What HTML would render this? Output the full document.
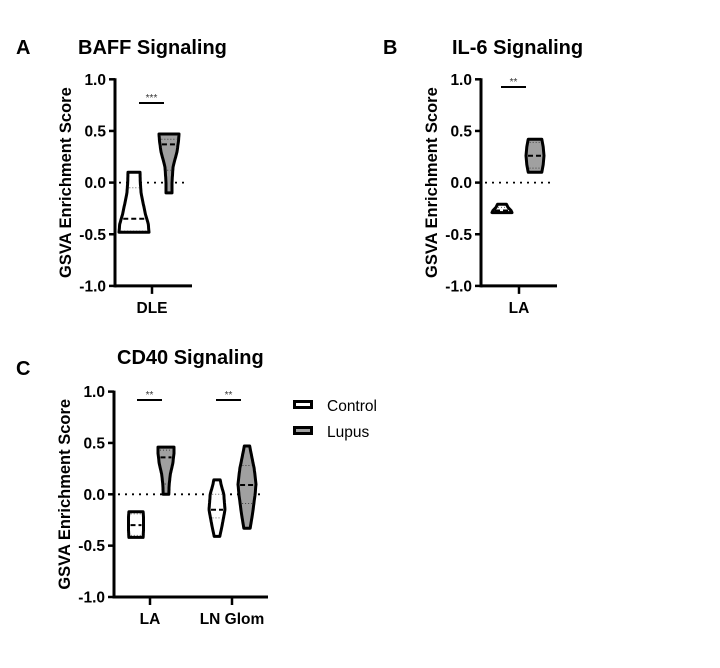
<!DOCTYPE html>
<html><head><meta charset="utf-8"><style>
body{margin:0;background:#fff}
svg{display:block;font-family:"Liberation Sans",sans-serif}
</style></head><body>
<svg width="720" height="668" viewBox="0 0 720 668">
<g id="root"></g>
</svg>
<script>
// Panel A data
const panelATicks = [1.0, 0.5, 0.0, -0.5, -1.0];
const panelATickLabels = ["1.0", "0.5", "0.0", "-0.5", "-1.0"];
const panelACategories = ["DLE"];
const aControlValues = [-0.48, -0.4, -0.3, -0.1, 0.0, 0.1];
const aControlDensity = [1.0, 0.95, 0.75, 0.47, 0.42, 0.4];
const aLupusValues = [-0.1, 0.0, 0.15, 0.3, 0.4, 0.47];
const aLupusDensity = [0.3, 0.3, 0.4, 0.8, 0.95, 1.0];
const aControlStats = [-0.35, -0.47, -0.05]; // median, q1, q3
const aLupusStats = [0.37, 0.12, 0.42];
const aSig = ["***"];
// Panel B data
const panelBCategories = ["LA"];
const bControlValues = [-0.29, -0.27, -0.24, -0.21];
const bControlDensity = [1.0, 0.9, 0.6, 0.45];
const bLupusValues = [0.1, 0.18, 0.26, 0.34, 0.42];
const bLupusDensity = [0.75, 0.92, 1.0, 0.92, 0.75];
const bControlStats = [-0.27, -0.28, -0.24];
const bLupusStats = [0.26, 0.14, 0.39];
const bSig = ["**"];
// Panel C data
const panelCCategories = ["LA", "LN Glom"];
const cLAControlValues = [-0.42, -0.35, -0.3, -0.22, -0.17];
const cLAControlDensity = [0.95, 1.0, 1.0, 1.0, 0.95];
const cLALupusValues = [0.0, 0.1, 0.2, 0.3, 0.4, 0.46];
const cLALupusDensity = [0.35, 0.4, 0.55, 0.85, 1.0, 1.0];
const cLNControlValues = [-0.41, -0.3, -0.15, 0.0, 0.1, 0.14];
const cLNControlDensity = [0.35, 0.65, 1.0, 0.85, 0.5, 0.4];
const cLNLupusValues = [-0.33, -0.2, 0.0, 0.1, 0.25, 0.4, 0.47];
const cLNLupusDensity = [0.35, 0.6, 0.9, 1.0, 0.8, 0.45, 0.3];
const cLAControlStats = [-0.3, -0.4, -0.19];
const cLALupusStats = [0.36, 0.1, 0.43];
const cLNControlStats = [-0.15, -0.23, 0.0];
const cLNLupusStats = [0.09, -0.09, 0.28];
const cSig = ["**", "**"];

const NS = "http://www.w3.org/2000/svg";
const root = document.getElementById('root');
function mk(tag, attrs, parent, text){
  const e = document.createElementNS(NS, tag);
  for (const k in attrs) e.setAttribute(k, attrs[k]);
  if (text !== undefined) e.textContent = text;
  (parent || root).appendChild(e);
  return e;
}
function interp(vals, dens, v){
  if (v <= vals[0]) return dens[0];
  for (let i = 1; i < vals.length; i++){
    if (v <= vals[i]){ const t = (v - vals[i-1])/(vals[i]-vals[i-1]); return dens[i-1] + t*(dens[i]-dens[i-1]); }
  }
  return dens[dens.length-1];
}
function panel(opt){
  const y = v => opt.y0 - v * opt.unit;
  const g = mk('g', {});
  
  
  const lt = mk('text', {x: opt.letterX, y: opt.letterY, 'font-size': 20, 'font-weight': 'bold'}, g, opt.letter);
  
  
  const tt = mk('text', {x: opt.titleX, y: opt.titleY, 'font-size': 20, 'font-weight': 'bold'}, g, opt.title);
  
  
  const yc = (y(1) + y(-1)) / 2;
  const yx = opt.ax - 44;
  const yt = mk('text', {x: yx, y: yc, 'font-size': 16.5, 'font-weight': 'bold', 'text-anchor': 'middle', transform: `rotate(-90 ${yx} ${yc})`}, g, 'GSVA Enrichment Score');
  
  
  const ya = mk('line', {x1: opt.ax, y1: y(1) - 1, x2: opt.ax, y2: y(-1) + 1.5, stroke: '#000', 'stroke-width': 3}, g);
  
  
  panelATicks.forEach((t, i) => {
    mk('line', {x1: opt.ax - 6, y1: y(t), x2: opt.ax, y2: y(t), stroke: '#000', 'stroke-width': 2.5}, g);
    const tl = mk('text', {x: opt.ax - 9, y: y(t) + 5.5, 'font-size': 15.5, 'font-weight': 'bold', 'text-anchor': 'end'}, g, panelATickLabels[i]);
    
    
  });
  const xa = mk('line', {x1: opt.ax, y1: y(-1), x2: opt.axEnd, y2: y(-1), stroke: '#000', 'stroke-width': 3}, g);
  
  
  opt.cats.forEach((c, i) => {
    const cx = opt.catX[i];
    mk('line', {x1: cx, y1: y(-1), x2: cx, y2: y(-1) + 8, stroke: '#000', 'stroke-width': 2.5}, g);
    const xl = mk('text', {x: cx, y: y(-1) + 27, 'font-size': 15.5, 'font-weight': 'bold', 'text-anchor': 'middle'}, g, c);
    
    
  });
  const zl = mk('line', {x1: opt.ax + 4, y1: y(0), x2: opt.axEnd - 3, y2: y(0), stroke: '#000', 'stroke-width': 1.8, 'stroke-dasharray': '2,5'}, g);
  
  
  opt.violins.forEach(vl => {
    const pts = [];
    const n = 30, lo = vl.vals[0], hi = vl.vals[vl.vals.length-1];
    for (let i = 0; i <= n; i++){ const v = lo + (hi-lo)*i/n; pts.push([vl.cx + interp(vl.vals, vl.dens, v)*vl.half, y(v)]); }
    for (let i = n; i >= 0; i--){ const v = lo + (hi-lo)*i/n; pts.push([vl.cx - interp(vl.vals, vl.dens, v)*vl.half, y(v)]); }
    const p = mk('path', {d: 'M' + pts.map(q => q[0].toFixed(1) + ',' + q[1].toFixed(1)).join('L') + 'Z', fill: vl.fill, stroke: '#000', 'stroke-width': 3, 'stroke-linejoin': 'round'}, g);
    
    
    vl.stats.forEach((s, k) => {
      const w = interp(vl.vals, vl.dens, s) * vl.half - 2;
      const l = mk('line', {x1: vl.cx - w, y1: y(s), x2: vl.cx + w, y2: y(s), stroke: '#000',
        'stroke-width': k === 0 ? 2 : 1, 'stroke-dasharray': k === 0 ? '5,3' : '1,2', opacity: k === 0 ? 1 : 0.6}, g);
      
      
    });
  });
  opt.sig.forEach((s, i) => {
    const b = mk('line', {x1: opt.sigX[i][0], y1: opt.sigY, x2: opt.sigX[i][1], y2: opt.sigY, stroke: '#000', 'stroke-width': 2}, g);
    
    
    const st = mk('text', {x: (opt.sigX[i][0] + opt.sigX[i][1]) / 2, y: opt.sigY - 2, 'font-size': 10, fill: '#333', 'text-anchor': 'middle'}, g, s);
    
    
  });
}
panel({name: 'panel-a', letter: 'A', letterX: 16, letterY: 54, title: 'BAFF Signaling', titleX: 78, titleY: 54,
  y0: 182.6, unit: 103.3, ax: 115, axEnd: 192, cats: panelACategories, catX: [152],
  violins: [
    {name: 'violin-control-dle', cx: 134, half: 15, vals: aControlValues, dens: aControlDensity, stats: aControlStats, fill: '#fff'},
    {name: 'violin-lupus-dle', cx: 169, half: 10, vals: aLupusValues, dens: aLupusDensity, stats: aLupusStats, fill: '#a0a0a0'}],
  sig: aSig, sigX: [[139, 164]], sigY: 103});
panel({name: 'panel-b', letter: 'B', letterX: 383, letterY: 54, title: 'IL-6 Signaling', titleX: 452, titleY: 54,
  y0: 182.6, unit: 103.3, ax: 481, axEnd: 557, cats: panelBCategories, catX: [519],
  violins: [
    {name: 'violin-control-la', cx: 502, half: 10, vals: bControlValues, dens: bControlDensity, stats: bControlStats, fill: '#fff'},
    {name: 'violin-lupus-la', cx: 535, half: 9, vals: bLupusValues, dens: bLupusDensity, stats: bLupusStats, fill: '#a0a0a0'}],
  sig: bSig, sigX: [[501, 526]], sigY: 87});
panel({name: 'panel-c', letter: 'C', letterX: 16, letterY: 375, title: 'CD40 Signaling', titleX: 117, titleY: 364,
  y0: 494.3, unit: 102.7, ax: 114, axEnd: 268, cats: panelCCategories, catX: [150, 232],
  violins: [
    {name: 'violin-control-la', cx: 136, half: 7.5, vals: cLAControlValues, dens: cLAControlDensity, stats: cLAControlStats, fill: '#fff'},
    {name: 'violin-lupus-la', cx: 166, half: 8, vals: cLALupusValues, dens: cLALupusDensity, stats: cLALupusStats, fill: '#a0a0a0'},
    {name: 'violin-control-ln-glom', cx: 217, half: 8, vals: cLNControlValues, dens: cLNControlDensity, stats: cLNControlStats, fill: '#fff'},
    {name: 'violin-lupus-ln-glom', cx: 247, half: 9, vals: cLNLupusValues, dens: cLNLupusDensity, stats: cLNLupusStats, fill: '#a0a0a0'}],
  sig: cSig, sigX: [[137, 162], [216, 241]], sigY: 400});
const lg = mk('g', {});


[['Control', '#fff', 405], ['Lupus', '#a0a0a0', 431]].forEach(e => {
  const r = mk('rect', {x: 294.5, y: e[2] - 3.5, width: 17, height: 6, fill: e[1], stroke: '#000', 'stroke-width': 3}, lg);
  
  
  const t = mk('text', {x: 327, y: e[2] + 6, 'font-size': 15.5}, lg, e[0]);
  
  
});
</script>
</body></html>
